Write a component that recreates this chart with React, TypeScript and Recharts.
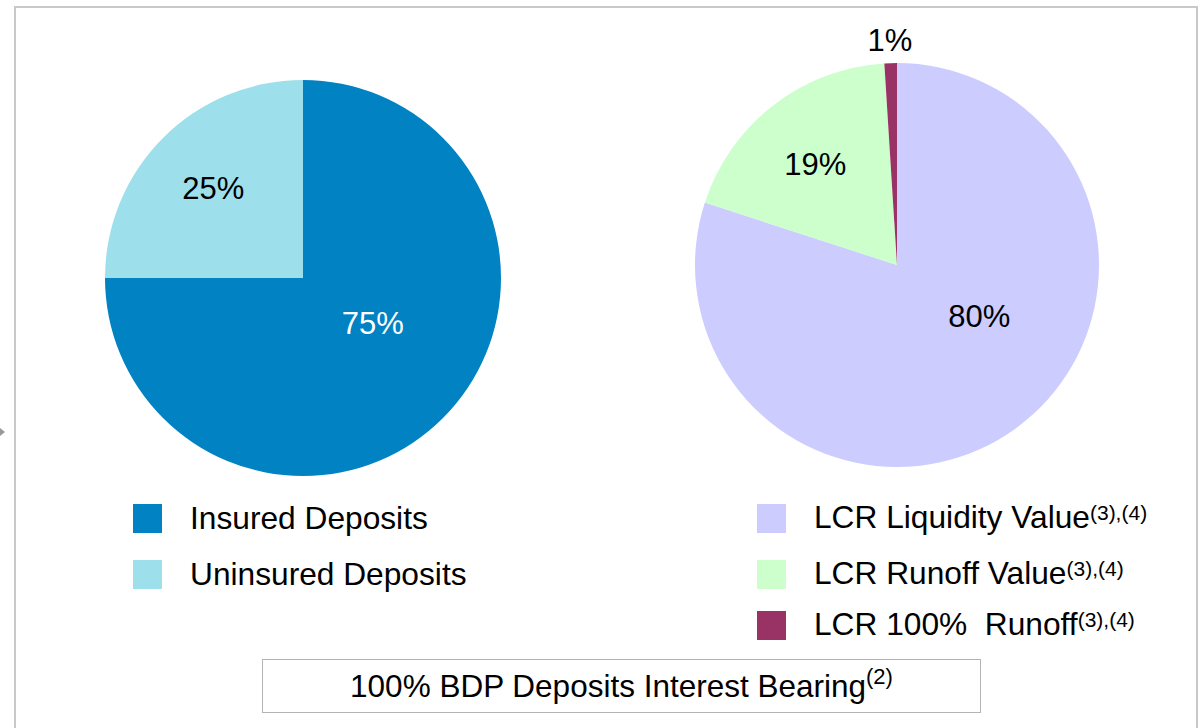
import * as React from 'react';
import { PieChart, Pie, Cell } from 'recharts';

// left pie: deposit insurance split
const depositNames = ['Insured Deposits', 'Uninsured Deposits'];
const depositValues = [75, 25];
const depositColors = ['#0082C3', '#9DDFEB'];

// right pie: LCR treatment
const lcrNames = ['LCR Liquidity Value', 'LCR Runoff Value', 'LCR 100%  Runoff'];
const lcrValues = [80, 19, 1];
const lcrColors = ['#CCCCFF', '#CCFFCC', '#993366'];

const footnote = '100% BDP Deposits Interest Bearing';

const depositData = depositNames.map((name, i) => ({ name, value: depositValues[i] }));
const lcrData = lcrNames.map((name, i) => ({ name, value: lcrValues[i] }));

const RAD = Math.PI / 180;
const FONT = '"Liberation Sans", Arial, sans-serif';

// radial factor + angle nudge for each label
const labelTweaks: Record<string, { r: number; da: number; fill: string }> = {
  'Insured Deposits': { r: 0.42, da: 12, fill: '#ffffff' },
  'Uninsured Deposits': { r: 0.64, da: 0, fill: '#000000' },
  'LCR Liquidity Value': { r: 0.48, da: 22, fill: '#000000' },
  'LCR Runoff Value': { r: 0.64, da: 1.4, fill: '#000000' },
  'LCR 100%  Runoff': { r: 1.11, da: 0, fill: '#000000' },
};

const renderLabel = (props: any) => {
  const { cx, cy, midAngle, outerRadius, value, name } = props;
  const t = labelTweaks[name] || { r: 0.6, da: 0, fill: '#000' };
  const a = (midAngle + t.da) * RAD;
  const r = outerRadius * t.r;
  const x = cx + r * Math.cos(a);
  const y = cy - r * Math.sin(a);
  return (
    <text x={x} y={y} fill={t.fill} textAnchor="middle" dominantBaseline="central"
      fontSize={31} fontFamily={FONT}>
      {value}%
    </text>
  );
};

const LegendRow = ({ color, label, sup, left, top }: any) => (
  <div style={{ position: 'absolute', left, top, height: 29, display: 'flex', alignItems: 'center' }}>
    <div style={{ width: 29, height: 29, background: color, flex: 'none' }} />
    <div style={{ marginLeft: 28, fontSize: 31.7, fontFamily: FONT, color: '#000', whiteSpace: 'pre', lineHeight: '29px' }}>
      {label}
      {sup && <span style={{ fontSize: 21, position: 'relative', top: -8 }}>{sup}</span>}
    </div>
  </div>
);

const lcrRowTops = [504, 560, 611];

export default function App() {
  return (
    <div style={{ position: 'absolute', left: 0, top: 0, width: 1200, height: 728, background: '#fff', overflow: 'hidden' }}>
      <div style={{ position: 'absolute', left: 14, top: 6, width: 1184, height: 740, border: '2px solid #c8c8c8', boxSizing: 'border-box' }} />
      <div style={{ position: 'absolute', left: 0, top: 428, width: 0, height: 0, borderTop: '4px solid transparent', borderBottom: '4px solid transparent', borderLeft: '5px solid #999' }} />
      <div style={{ position: 'absolute', left: 0, top: 0 }}>
        <PieChart width={1200} height={728} margin={{ top: 0, right: 0, bottom: 0, left: 0 }}>
          <Pie data={depositData} dataKey="value" nameKey="name" cx={303} cy={278} outerRadius={198}
            startAngle={90} endAngle={-270} stroke="none" label={renderLabel} labelLine={false}
            isAnimationActive={false}>
            {depositData.map((d, i) => <Cell key={d.name} fill={depositColors[i]} />)}
          </Pie>
          <Pie data={lcrData} dataKey="value" nameKey="name" cx={897} cy={265} outerRadius={202}
            startAngle={90} endAngle={-270} stroke="none" label={renderLabel} labelLine={false}
            isAnimationActive={false}>
            {lcrData.map((d, i) => <Cell key={d.name} fill={lcrColors[i]} />)}
          </Pie>
        </PieChart>
      </div>
      {depositNames.map((n, i) => (
        <LegendRow key={n} color={depositColors[i]} label={n} left={133} top={504 + i * 56} />
      ))}
      {lcrNames.map((n, i) => (
        <LegendRow key={n} color={lcrColors[i]} label={n} sup="(3),(4)" left={757} top={lcrRowTops[i]} />
      ))}
      <div style={{ position: 'absolute', left: 262, top: 659, width: 719, height: 54, border: '1.5px solid #b4b4b4', boxSizing: 'border-box',
        display: 'flex', alignItems: 'center', justifyContent: 'center', fontFamily: FONT, fontSize: 31.5, color: '#000', whiteSpace: 'pre' }}>
        {footnote}
        <span style={{ fontSize: 22, position: 'relative', top: -9 }}>(2)</span>
      </div>
    </div>
  );
}
